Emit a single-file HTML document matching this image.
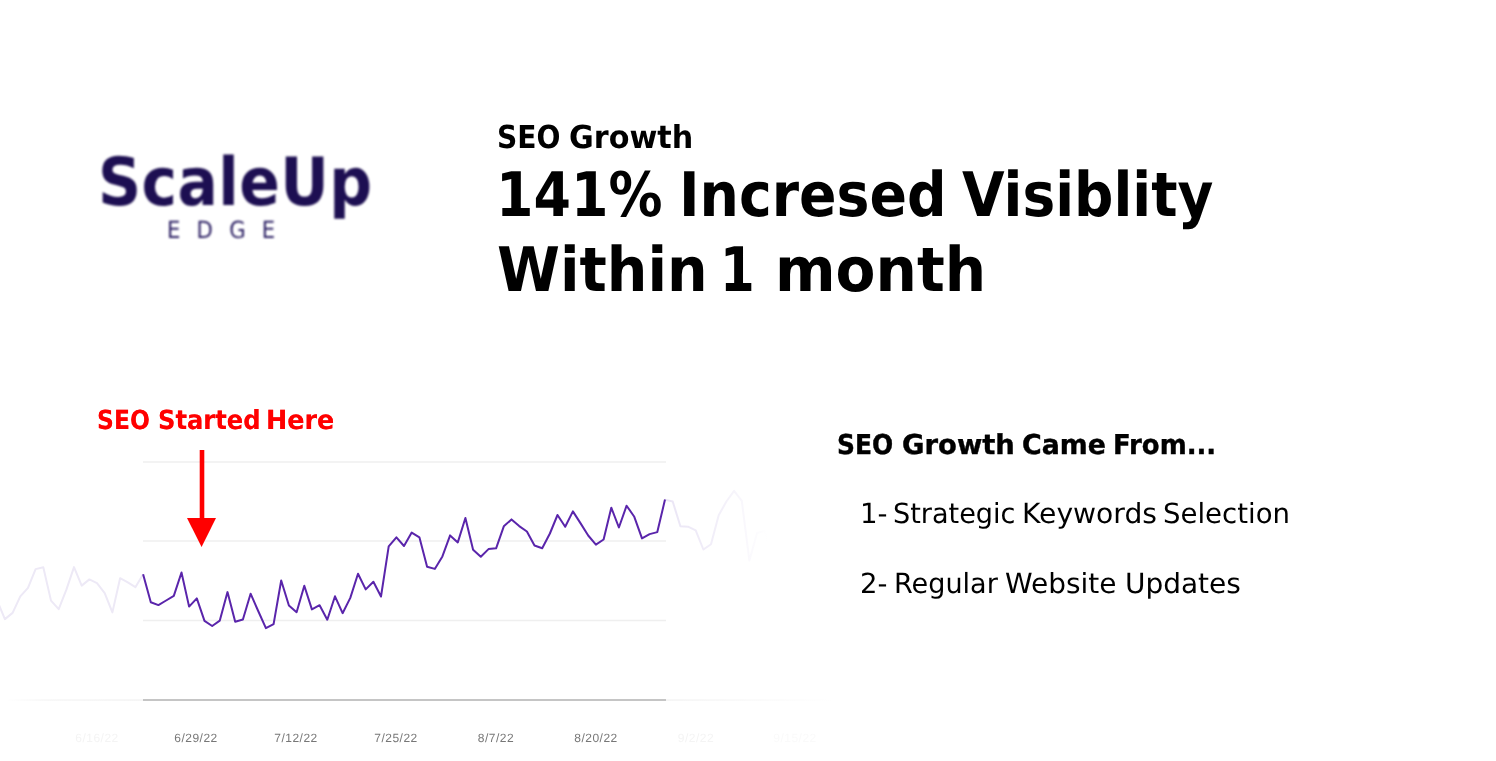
<!DOCTYPE html>
<html lang="en">
<head>
<meta charset="utf-8">
<title>SEO Growth - ScaleUp Edge</title>
<style>
html,body{margin:0;padding:0;background:#fff;}
body{width:1496px;height:761px;position:relative;overflow:hidden;font-family:"DejaVu Sans","Liberation Sans",sans-serif;color:#000;}
.w{position:absolute;white-space:nowrap;line-height:1;transform-origin:0 0;display:block;text-rendering:geometricPrecision;}
.lg{font-size:66.5px;font-weight:bold;color:#1d0f52;letter-spacing:0.5px;}
.ed{font-size:23.6px;font-weight:normal;color:#2b1f63;letter-spacing:18px;}
.h1{font-size:31.6px;font-weight:bold;}
.h2a{font-size:61.4px;font-weight:bold;}
.h2b{font-size:61.4px;font-weight:bold;}
.red{font-size:26.2px;font-weight:bold;color:#ff0000;}
.r1{font-size:27.2px;font-weight:bold;-webkit-text-stroke:0.4px #000;}
.r2{font-size:27.6px;font-weight:normal;}
.r3{font-size:27.6px;font-weight:normal;}
#lg{filter:blur(1px);}
#ed{filter:blur(1px);}
.red{text-shadow:0 0 0.6px rgba(255,0,0,0.6);}
#chart{position:absolute;left:0;top:380px;}
#chart text{font-family:"Liberation Sans",sans-serif;font-size:12px;letter-spacing:0.5px;text-anchor:middle;text-rendering:geometricPrecision;}
</style>
</head>
<body>
<div class="line" id="lg"><span class="w lg" style="left:97.59px;top:149.00px;transform:scaleX(0.9000)">ScaleUp</span></div>
<div class="line" id="ed"><span class="w ed" style="left:167.16px;top:218.90px;transform:scaleX(0.9000)">EDGE</span></div>
<div class="line" id="h1"><span class="w h1" style="left:496.93px;top:122.75px;transform:scaleX(0.8919)">SEO</span> <span class="w h1" style="left:569.37px;top:122.75px;transform:scaleX(0.9562)">Growth</span></div>
<div class="line" id="h2a"><span class="w h2a" style="left:496.05px;top:165.00px;transform:scaleX(0.8780)">141%</span> <span class="w h2a" style="left:678.91px;top:165.00px;transform:scaleX(0.9010)">Incresed</span> <span class="w h2a" style="left:962.28px;top:165.00px;transform:scaleX(0.8964)">Visiblity</span></div>
<div class="line" id="h2b"><span class="w h2b" style="left:496.50px;top:240.00px;transform:scaleX(0.9294)">Within</span> <span class="w h2b" style="left:719.91px;top:240.00px;transform:scaleX(0.8134)">1</span> <span class="w h2b" style="left:774.76px;top:240.00px;transform:scaleX(0.9477)">month</span></div>
<div class="line" id="red"><span class="w red" style="left:96.91px;top:407.80px;transform:scale(0.8952,1.0053)">SEO</span> <span class="w red" style="left:157.55px;top:407.80px;transform:scale(0.9235,1.0053)">Started</span> <span class="w red" style="left:266.15px;top:407.80px;transform:scale(0.9718,1.0053)">Here</span></div>
<div class="line" id="r1"><span class="w r1" style="left:837.04px;top:431.65px;transform:scale(0.9170,1.0039)">SEO</span> <span class="w r1" style="left:901.66px;top:431.65px;transform:scale(1.0089,1.0039)">Growth</span> <span class="w r1" style="left:1021.69px;top:431.65px;transform:scale(0.9872,1.0039)">Came</span> <span class="w r1" style="left:1113.04px;top:431.65px;transform:scale(0.9537,1.0039)">From...</span></div>
<div class="line" id="r2"><span class="w r2" style="left:860.06px;top:499.55px;transform:scale(1.0011,1.005)">1-</span> <span class="w r2" style="left:893.16px;top:499.55px;transform:scale(0.9812,1.005)">Strategic</span> <span class="w r2" style="left:1022.04px;top:499.55px;transform:scale(1.0204,1.005)">Keywords</span> <span class="w r2" style="left:1162.83px;top:499.55px;transform:scale(0.9983,1.005)">Selection</span></div>
<div class="line" id="r3"><span class="w r3" style="left:859.68px;top:569.55px;transform:scale(0.9963,1.005)">2-</span> <span class="w r3" style="left:894.05px;top:569.55px;transform:scale(0.9805,1.005)">Regular</span> <span class="w r3" style="left:1005.37px;top:569.55px;transform:scale(1.0131,1.005)">Website</span> <span class="w r3" style="left:1124.56px;top:569.55px;transform:scale(1.0132,1.005)">Updates</span></div>
<svg id="chart" width="900" height="381" viewBox="0 380 900 381">
<defs>
<linearGradient id="fadeR" gradientUnits="userSpaceOnUse" x1="666" y1="0" x2="768" y2="0">
<stop offset="0" stop-color="#eae5f5"/><stop offset="0.5" stop-color="#f2eff9"/><stop offset="1" stop-color="#ffffff"/>
</linearGradient>
<linearGradient id="axR" gradientUnits="userSpaceOnUse" x1="666" y1="0" x2="835" y2="0">
<stop offset="0" stop-color="#f3f3f3"/><stop offset="1" stop-color="#ffffff"/>
</linearGradient>
<linearGradient id="axL" gradientUnits="userSpaceOnUse" x1="5" y1="0" x2="143" y2="0">
<stop offset="0" stop-color="#ffffff"/><stop offset="0.3" stop-color="#f6f6f6"/><stop offset="1" stop-color="#f3f3f3"/>
</linearGradient>
</defs>
<g stroke="#efefef" stroke-width="1.5">
<line x1="143" y1="462" x2="666" y2="462"/>
<line x1="143" y1="541" x2="666" y2="541"/>
<line x1="143" y1="620.5" x2="666" y2="620.5"/>
</g>
<rect x="5" y="699.3" width="138" height="1.5" fill="url(#axL)"/>
<rect x="666" y="699.3" width="170" height="1.5" fill="url(#axR)"/>
<line x1="143" y1="700" x2="666" y2="700" stroke="#b2b2b2" stroke-width="1.4"/>
<polyline fill="none" stroke="#ede9f6" stroke-width="2" stroke-linejoin="round" points="-2.7,601.0 4.9,619.1 12.6,612.9 20.3,596.3 28.0,587.8 35.6,569.1 43.3,567.2 51.0,600.6 58.7,609.2 66.3,589.9 74.0,567.1 81.7,585.6 89.4,579.4 97.0,583.2 104.7,593.1 112.4,612.4 120.1,578.2 127.8,582.4 135.4,587.2 143.1,574.3"/>
<polyline fill="none" stroke="url(#fadeR)" stroke-width="2" stroke-linejoin="round" points="665.0,499.6 672.7,501.5 680.4,526.2 688.0,526.7 695.7,530.4 703.4,549.5 711.0,544.2 718.7,515.3 726.4,501.5 734.1,490.8 741.8,500.9 749.4,560.6 757.1,533.0 764.8,531.0 772.5,560.0 780.1,575.0"/>
<polyline fill="none" stroke="#5a25ab" stroke-width="2" stroke-linejoin="round" stroke-linecap="butt" points="143.1,574.3 150.8,602.2 158.4,605.1 166.1,600.5 173.8,595.9 181.5,572.5 189.1,606.6 196.8,598.4 204.5,620.9 212.2,626.0 219.8,620.6 227.5,592.1 235.2,621.8 242.9,619.5 250.6,593.7 258.2,611.0 265.9,628.2 273.6,624.2 281.2,580.5 288.9,605.5 296.6,612.2 304.3,585.7 311.9,609.4 319.6,605.2 327.3,619.7 335.0,596.3 342.6,613.2 350.3,597.9 358.0,573.8 365.7,589.4 373.4,581.8 381.0,596.5 388.7,546.4 396.4,537.3 404.0,546.0 411.7,532.6 419.4,537.3 427.1,566.7 434.8,568.9 442.4,556.4 450.1,535.4 457.8,542.4 465.4,518.0 473.1,549.7 480.8,556.8 488.5,549.1 496.1,548.3 503.8,526.3 511.5,519.4 519.2,526.1 526.9,531.5 534.5,545.5 542.2,548.2 549.9,533.5 557.5,515.0 565.2,526.8 572.9,511.4 580.6,523.4 588.2,535.5 595.9,544.6 603.6,539.5 611.3,507.7 618.9,527.5 626.6,505.7 634.3,516.8 642.0,538.4 649.6,534.1 657.3,532.1 665.0,499.6"/>
<g fill="#ff0000">
<rect x="199.7" y="450" width="4.6" height="70"/>
<polygon points="187,518 216,518 201.6,547"/>
</g>
<g fill="#777777">
<text x="97" y="742" fill="#f4f4f4">6/16/22</text>
<text x="196" y="742">6/29/22</text>
<text x="296" y="742">7/12/22</text>
<text x="396" y="742">7/25/22</text>
<text x="496" y="742">8/7/22</text>
<text x="596" y="742">8/20/22</text>
<text x="696" y="742" fill="#f4f4f4">9/2/22</text>
<text x="795" y="742" fill="#fafafa">9/15/22</text>
</g>
</svg>
</body>
</html>
